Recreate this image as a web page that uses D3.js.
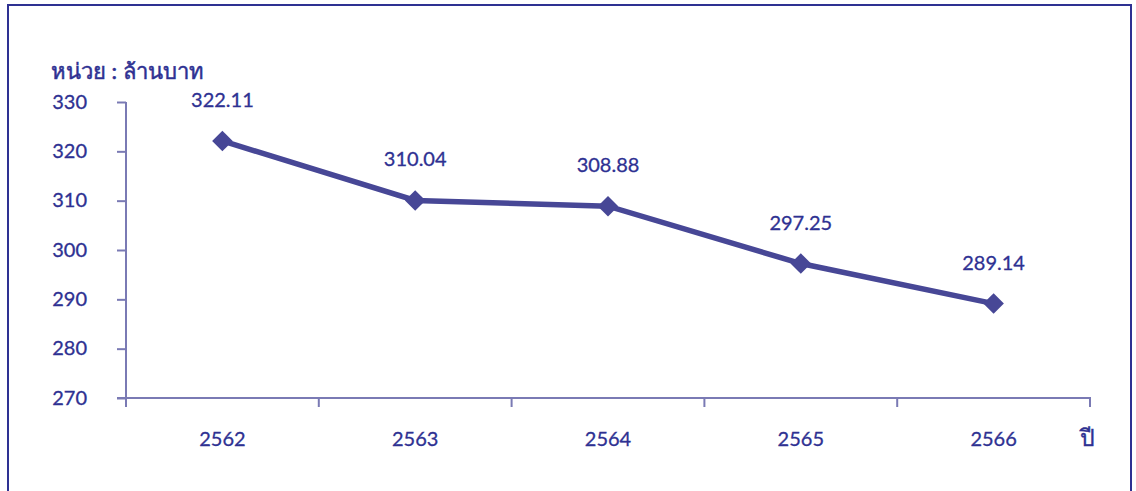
<!DOCTYPE html>
<html>
<head>
<meta charset="utf-8">
<script src="https://cdn.jsdelivr.net/npm/d3@7"></script>
<style>
  html, body { margin: 0; padding: 0; background: #fff; }
  svg { display: block; }
  text { font-family: Lato, "Noto Sans", sans-serif; }
</style>
</head>
<body>
<div id="chart"></div>
<script>
// ── Data ──────────────────────────────────────────────────
const years  = ["2562", "2563", "2564", "2565", "2566"];
const values = [322.11, 310.04, 308.88, 297.25, 289.14];
const yTicks = [270, 280, 290, 300, 310, 320, 330];
const unitLabel = "หน่วย : ล้านบาท";
const xAxisLabel = "ปี";

const W = 1136, H = 491;
const TEXT = "#2e3192";
const LINE = "#474796";
const AXIS = "#7a7ab4";

const svg = d3.select("#chart").append("svg").attr("width", W).attr("height", H);

// Frame
svg.append("rect")
  .attr("x", 8).attr("y", 5).attr("width", 1123).attr("height", 500)
  .attr("fill", "none").attr("stroke", TEXT).attr("stroke-width", 2);

const x = d3.scaleBand().domain(years).range([126, 1090]);
const y = d3.scaleLinear().domain([270, 330]).range([398, 102]);

// Y axis
svg.append("g").attr("transform", "translate(126,0)")
  .call(d3.axisLeft(y).tickValues(yTicks).tickSize(9).tickPadding(30).tickFormat(d3.format("d")))
  .call(ax => ax.select(".domain").attr("stroke", AXIS).attr("stroke-width", 2)
      .attr("d", `M0,${y(330)}V${y(270) + 9}`))
  .call(ax => ax.selectAll("line").attr("stroke", AXIS).attr("stroke-width", 2))
  .call(ax => ax.selectAll("text").attr("fill", TEXT).attr("font-size", 20)
      .attr("font-family", "Lato, sans-serif").attr("dy", "0.3em")
      .attr("stroke", TEXT).attr("stroke-width", 0.3));

// X axis
svg.append("g").attr("transform", `translate(0,${y(270)})`)
  .call(d3.axisBottom(x).tickSize(0).tickPadding(34))
  .call(ax => ax.select(".domain").attr("stroke", AXIS).attr("stroke-width", 2)
      .attr("d", `M117,0H1090V9`))
  .call(ax => ax.selectAll("text").attr("fill", TEXT).attr("font-size", 20)
      .attr("font-family", "Lato, sans-serif")
      .attr("stroke", TEXT).attr("stroke-width", 0.3));

// X tick marks between categories
svg.append("g").selectAll("line").data(years.slice(1)).join("line")
  .attr("x1", d => x(d)).attr("x2", d => x(d))
  .attr("y1", y(270)).attr("y2", y(270) + 9)
  .attr("stroke", AXIS).attr("stroke-width", 2);

// Unit label
svg.append("text").attr("x", 51).attr("y", 79)
  .attr("fill", TEXT).attr("font-size", 22).attr("font-weight", 500)
  .attr("stroke", TEXT).attr("stroke-width", 0.5)
  .attr("font-family", "'Noto Sans', 'Noto Sans Thai', Lato, sans-serif")
  .text(unitLabel);

// "ปี"
svg.append("text").attr("x", 1087).attr("y", 446)
  .attr("text-anchor", "middle")
  .attr("fill", TEXT).attr("font-size", 23)
  .attr("stroke", TEXT).attr("stroke-width", 0.4)
  .attr("font-family", "'Noto Sans', 'Noto Sans Thai', sans-serif")
  .text(xAxisLabel);

const cx = d => x(d) + x.bandwidth() / 2;
const pts = years.map((d, i) => ({ year: d, v: values[i] }));

// Line
svg.append("path").datum(pts)
  .attr("d", d3.line().x(d => cx(d.year)).y(d => y(d.v)))
  .attr("fill", "none").attr("stroke", LINE).attr("stroke-width", 5.5);

// Diamond markers
svg.selectAll(".mk").data(pts).join("path")
  .attr("class", "mk")
  .attr("transform", d => `translate(${cx(d.year)},${y(d.v)})`)
  .attr("d", d3.symbol(d3.symbolDiamond2, 270)())
  .attr("fill", LINE);

// Value labels
svg.selectAll(".vl").data(pts).join("text")
  .attr("class", "vl")
  .attr("x", d => cx(d.year)).attr("y", d => y(d.v) - 34)
  .attr("text-anchor", "middle")
  .attr("fill", TEXT).attr("font-size", 20).attr("font-family", "Lato, sans-serif")
  .attr("stroke", TEXT).attr("stroke-width", 0.3)
  .text(d => d3.format(".2f")(d.v));
</script>
</body>
</html>
